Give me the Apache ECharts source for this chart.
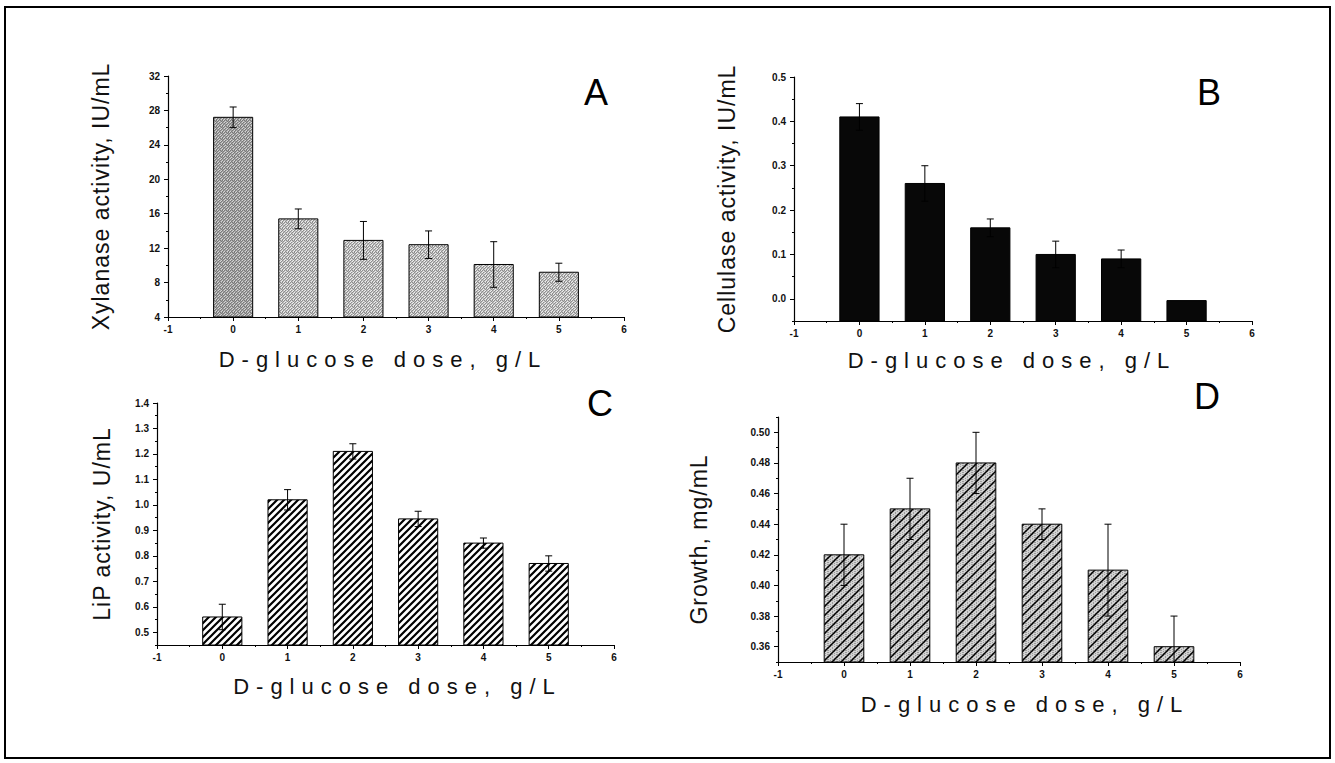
<!DOCTYPE html>
<html>
<head>
<meta charset="utf-8">
<script src="https://cdn.jsdelivr.net/npm/echarts@6/dist/echarts.min.js"></script>
<style>
  html, body { margin: 0; padding: 0; background: #ffffff; }
  #chart { width: 1335px; height: 763px; }
</style>
</head>
<body>
<div id="chart"></div>
<script>
// ---- data: D-glucose dose (g/L) and measured responses (mean, ± error) ----
const doses = [0, 1, 2, 3, 4, 5];

const xylanase    = [27.2, 15.4, 12.9, 12.4, 10.1, 9.2];
const xylanaseErr = [1.2, 1.15, 2.2, 1.6, 2.65, 1.05];

const cellulase    = [0.41, 0.26, 0.16, 0.10, 0.09, -0.004];
const cellulaseErr = [0.03, 0.04, 0.02, 0.03, 0.02, 0];

const lip    = [0.56, 1.02, 1.21, 0.945, 0.85, 0.77];
const lipErr = [0.05, 0.04, 0.03, 0.03, 0.02, 0.03];

const growth    = [0.42, 0.45, 0.48, 0.44, 0.41, 0.36];
const growthErr = [0.02, 0.02, 0.02, 0.01, 0.03, 0.02];

// tick labels
const xTicks = [-1, 0, 1, 2, 3, 4, 5, 6];
const ticksA = [4, 8, 12, 16, 20, 24, 28, 32];
const ticksB = [0.0, 0.1, 0.2, 0.3, 0.4, 0.5];
const ticksC = [0.5, 0.6, 0.7, 0.8, 0.9, 1.0, 1.1, 1.2, 1.3, 1.4];
const ticksD = [0.36, 0.38, 0.40, 0.42, 0.44, 0.46, 0.48, 0.50];

const X_NAME = 'D-glucose dose, g/L';
const FONT = '"Liberation Sans", Arial, Helvetica, sans-serif';
const BAR_WIDTH = 0.6; // in dose units

// ---- fill textures ----
function tile(size, draw) {
  const c = document.createElement('canvas');
  c.width = size; c.height = size;
  draw(c.getContext('2d'), size);
  return { image: c, repeat: 'repeat', imageWidth: size, imageHeight: size };
}
function stipple(base, dark, light) {
  return tile(6, (g, s) => {
    g.fillStyle = base; g.fillRect(0, 0, s, s);
    g.fillStyle = dark;
    [[0,0],[2,0],[4,0],[1,1],[3,2],[5,1],[0,2],[2,3],[4,4],[1,4],[3,5],[5,3],[0,5]].forEach(p => g.fillRect(p[0], p[1], 1, 1));
    g.fillStyle = light;
    [[1,0],[3,1],[5,2],[2,2],[4,3],[0,4],[2,5],[5,5]].forEach(p => g.fillRect(p[0], p[1], 1, 1));
  });
}
function hatch(size, bg, lw, speck) {
  return tile(size, (g, s) => {
    g.fillStyle = bg; g.fillRect(0, 0, s, s);
    if (speck) {
      g.fillStyle = speck;
      for (let i = 0; i < s; i += 2) for (let j = (i / 2) % 2; j < s; j += 2) g.fillRect(i, j, 1, 1);
    }
    g.strokeStyle = '#000'; g.lineWidth = lw;
    g.beginPath();
    g.moveTo(-1, s + 1); g.lineTo(s + 1, -1);
    g.moveTo(-1, 1); g.lineTo(1, -1);
    g.moveTo(s - 1, s + 1); g.lineTo(s + 1, s - 1);
    g.stroke();
  });
}
const fills = {
  stippleDark:  stipple('#a4a4a4', '#7a7a7a', '#d4d4d4'),
  stippleLight: stipple('#c2c2c2', '#8e8e8e', '#eeeeee'),
  solid: '#080808',
  hatchDense: hatch(7, '#ffffff', 2.2, null),
  hatchGray: hatch(9, '#d2d2d2', 1.5, '#9a9a9a')
};

// ---- panel layout ----
const panels = [
  { letter: 'A', grid: { left: 168, top: 76, width: 456, height: 241 },
    yMin: 4, yMax: 32, yTicks: ticksA, minorStep: 2, digits: 0,
    yName: 'Xylanase activity, IU/mL', yNameGap: 56, xNameGap: 31, xNameShift: -13,
    values: xylanase, errors: xylanaseErr,
    fill: i => (i === 0 ? fills.stippleDark : fills.stippleLight),
    letterPos: [597, 93] },
  { letter: 'B', grid: { left: 794, top: 77, width: 458, height: 244 },
    yMin: -0.05, yMax: 0.5, yTicks: ticksB, minorStep: 0.05, digits: 1,
    yName: 'Cellulase activity, IU/mL', yNameGap: 56, xNameGap: 28, xNameShift: -11,
    values: cellulase, errors: cellulaseErr,
    fill: () => fills.solid,
    letterPos: [1210, 93] },
  { letter: 'C', grid: { left: 157, top: 403, width: 457, height: 242 },
    yMin: 0.45, yMax: 1.4, yTicks: ticksC, minorStep: 0.05, digits: 1,
    yName: 'LiP activity, U/mL', yNameGap: 44, xNameGap: 30, xNameShift: 12,
    values: lip, errors: lipErr,
    fill: () => fills.hatchDense,
    letterPos: [600, 404] },
  { letter: 'D', grid: { left: 778, top: 417, width: 462, height: 245 },
    yMin: 0.35, yMax: 0.51, yTicks: ticksD, minorStep: 0.01, digits: 2,
    yName: 'Growth, mg/mL', yNameGap: 68, xNameGap: 31, xNameShift: 16,
    values: growth, errors: growthErr,
    fill: () => fills.hatchGray,
    letterPos: [1207, 397] }
];

const tickLabelStyle = { fontFamily: FONT, fontSize: 10, fontWeight: 'bold', color: '#111' };
const xNameStyle = { fontFamily: FONT, fontSize: 22, color: '#111' };
const yNameStyle = { fontFamily: FONT, fontSize: 23, color: '#111' };
const axisLine = { show: true, onZero: false, lineStyle: { color: '#000', width: 1.2 } };

const grids = [], xAxes = [], yAxes = [], series = [], graphics = [];

panels.forEach((p, k) => {
  grids.push(Object.assign({ containLabel: false }, p.grid));

  xAxes.push({
    type: 'value', gridIndex: k, min: -1, max: 6, interval: 1,
    name: X_NAME, nameLocation: 'middle', nameGap: p.xNameGap,
    nameTextStyle: Object.assign({}, xNameStyle,
      p.xNameShift < 0 ? { padding: [0, -2 * p.xNameShift, 0, 0] } :
      p.xNameShift > 0 ? { padding: [0, 0, 0, 2 * p.xNameShift] } : {}),
    axisLine: axisLine,
    axisTick: { show: true, length: 4, lineStyle: { color: '#000' } },
    minorTick: { show: true, splitNumber: 2, length: 2, lineStyle: { color: '#000' } },
    axisLabel: Object.assign({ margin: 7, formatter: v => String(v) }, tickLabelStyle),
    splitLine: { show: false }
  });

  // major ticks and labels
  yAxes.push({
    type: 'value', gridIndex: k, position: 'left', min: p.yMin, max: p.yMax,
    name: p.yName, nameLocation: 'middle', nameGap: p.yNameGap, nameRotate: 90,
    nameTextStyle: yNameStyle,
    axisLine: axisLine,
    axisTick: { show: true, length: 4, customValues: p.yTicks, lineStyle: { color: '#000' } },
    axisLabel: Object.assign({ margin: 8, customValues: p.yTicks,
      formatter: v => Number(v).toFixed(p.digits) }, tickLabelStyle),
    splitLine: { show: false }
  });
  // minor ticks on the same left edge
  yAxes.push({
    type: 'value', gridIndex: k, position: 'left', offset: 0,
    min: p.yMin, max: p.yMax, interval: p.minorStep,
    axisLine: { show: false, onZero: false },
    axisTick: { show: true, length: 2, lineStyle: { color: '#000' } },
    axisLabel: { show: false },
    splitLine: { show: false }
  });

  const yIndex = yAxes.length - 2;
  series.push({
    type: 'custom',
    xAxisIndex: k, yAxisIndex: yIndex,
    clip: true,
    encode: { x: 0, y: 1 },
    data: doses.map((d, i) => [d, p.values[i], p.errors[i]]),
    renderItem: (params, api) => {
      const x = api.value(0), v = api.value(1), e = api.value(2);
      const tl = api.coord([x - BAR_WIDTH / 2, v]);
      const br = api.coord([x + BAR_WIDTH / 2, p.yMin]);
      const top = api.coord([x, v + e]);
      const bot = api.coord([x, v - e]);
      const cap = 3.5;
      const children = [{
        type: 'rect',
        shape: { x: tl[0], y: tl[1], width: br[0] - tl[0], height: br[1] - tl[1] },
        style: { fill: p.fill(params.dataIndex), stroke: '#000', lineWidth: 1 }
      }];
      if (e > 0) {
        const ls = { stroke: '#000', lineWidth: 1 };
        children.push(
          { type: 'line', shape: { x1: top[0], y1: top[1], x2: bot[0], y2: bot[1] }, style: ls },
          { type: 'line', shape: { x1: top[0] - cap, y1: top[1], x2: top[0] + cap, y2: top[1] }, style: ls },
          { type: 'line', shape: { x1: bot[0] - cap, y1: bot[1], x2: bot[0] + cap, y2: bot[1] }, style: ls }
        );
      }
      return { type: 'group', children: children };
    }
  });

  graphics.push({
    type: 'text', left: p.letterPos[0] - 13, top: p.letterPos[1] - 19,
    style: { text: p.letter, font: '36px ' + FONT, fill: '#000' }
  });
});

// outer frame
graphics.push({
  type: 'rect', z: -1,
  shape: { x: 5, y: 7, width: 1325, height: 751 },
  style: { fill: 'none', stroke: '#000', lineWidth: 2 }
});

const chart = echarts.init(document.getElementById('chart'), null, { renderer: 'svg' });
chart.setOption({
  animation: false,
  backgroundColor: '#ffffff',
  grid: grids,
  xAxis: xAxes,
  yAxis: yAxes,
  series: series,
  graphic: graphics
});

// widen the tracking of the axis titles
const Y_NAMES = panels.map(p => p.yName);
function trackAxisTitles() {
  document.querySelectorAll('#chart text').forEach(t => {
    if (t.textContent === X_NAME) t.setAttribute('letter-spacing', '7');
    else if (Y_NAMES.indexOf(t.textContent) >= 0) t.setAttribute('letter-spacing', '1');
  });
}
trackAxisTitles();
chart.on('finished', trackAxisTitles);
setTimeout(trackAxisTitles, 50);
</script>
</body>
</html>
